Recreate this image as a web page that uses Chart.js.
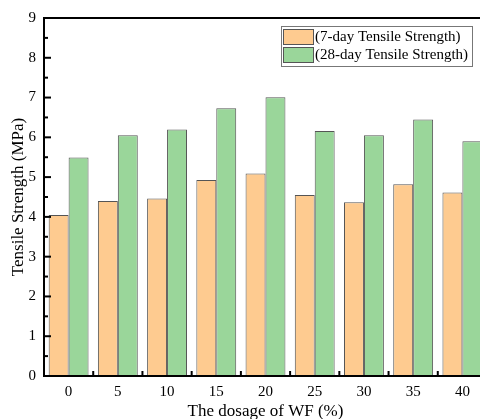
<!DOCTYPE html>
<html lang="en">
<head>
    <meta charset="UTF-8">
    <title>Tensile Strength vs WF dosage</title>
    <script src="https://cdn.jsdelivr.net/npm/chart.js"></script>
    <style>
        html, body {
            margin: 0;
            padding: 0;
            background: #fff;
            overflow: hidden;
        }
        #wrap {
            width: 500px;
            height: 419px;
        }
    </style>
</head>
<body>
    <div id="wrap"><canvas id="strengthChart" width="500" height="419"></canvas></div>

    <script>
        // Data
        const dosages = ['0', '5', '10', '15', '20', '25', '30', '35', '40'];
        const strength7d = [4.05, 4.40, 4.46, 4.93, 5.09, 4.55, 4.37, 4.82, 4.61];
        const strength28d = [5.49, 6.05, 6.20, 6.73, 7.01, 6.16, 6.05, 6.45, 5.90];
        const yTicks = [0, 1, 2, 3, 4, 5, 6, 7, 8, 9];

        const serif = 'Liberation Serif, Times New Roman, serif';

        // Frame, inward ticks and boxed legend (Origin style)
        const originStyle = {
            id: 'originStyle',
            afterDraw(chart) {
                const c = chart.ctx;
                const a = chart.chartArea;
                const xs = chart.scales.x;
                const ys = chart.scales.y;
                c.save();
                c.strokeStyle = '#000';
                c.lineWidth = 2;
                c.strokeRect(a.left, a.top, a.right - a.left, a.bottom - a.top);

                // y ticks: major every 1, minor halfway
                yTicks.forEach(function (v) {
                    const y = ys.getPixelForValue(v);
                    c.beginPath();
                    c.moveTo(a.left, y);
                    c.lineTo(a.left + 7, y);
                    c.stroke();
                    if (v < yTicks[yTicks.length - 1]) {
                        const ym = ys.getPixelForValue(v + 0.5);
                        c.beginPath();
                        c.moveTo(a.left, ym);
                        c.lineTo(a.left + 4, ym);
                        c.stroke();
                    }
                });

                // x ticks at category boundaries
                for (let i = 0; i < dosages.length - 1; i++) {
                    const x = (xs.getPixelForValue(i) + xs.getPixelForValue(i + 1)) / 2;
                    c.beginPath();
                    c.moveTo(x, a.bottom);
                    c.lineTo(x, a.bottom - 5);
                    c.stroke();
                }

                // legend box
                const boxW = 191, boxH = 40;
                const bx = a.right - 15 - boxW;
                const by = a.top + 8;
                c.fillStyle = '#fff';
                c.fillRect(bx, by, boxW, boxH);
                c.strokeStyle = '#777';
                c.lineWidth = 1;
                c.strokeRect(bx + 0.5, by + 0.5, boxW, boxH);
                c.font = '15px ' + serif;
                c.textBaseline = 'middle';
                chart.data.datasets.forEach(function (ds, i) {
                    const sy = by + 3 + i * 18;
                    c.fillStyle = ds.backgroundColor;
                    c.fillRect(bx + 2.5, sy + 0.5, 30, 15);
                    c.strokeStyle = '#555';
                    c.strokeRect(bx + 2.5, sy + 0.5, 30, 15);
                    c.fillStyle = '#000';
                    c.fillText(ds.label, bx + 34, sy + 8.5);
                });
                c.restore();
            }
        };

        const ctx = document.getElementById('strengthChart').getContext('2d');
        const strengthChart = new Chart(ctx, {
            type: 'bar',
            data: {
                labels: dosages,
                datasets: [{
                    label: '(7-day Tensile Strength)',
                    data: strength7d,
                    backgroundColor: '#FECB90',
                    borderColor: '#555',
                    borderWidth: 1
                }, {
                    label: '(28-day Tensile Strength)',
                    data: strength28d,
                    backgroundColor: '#9AD69A',
                    borderColor: '#555',
                    borderWidth: 1
                }]
            },
            options: {
                responsive: false,
                animation: false,
                devicePixelRatio: 1,
                categoryPercentage: 0.81,
                barPercentage: 1.0,
                layout: {
                    padding: { top: 18, right: 13, left: 0, bottom: 0 }
                },
                plugins: {
                    legend: { display: false },
                    tooltip: { enabled: false }
                },
                scales: {
                    x: {
                        grid: { display: false, drawTicks: false },
                        border: { display: false },
                        ticks: {
                            color: '#000',
                            padding: 7,
                            font: { family: serif, size: 15 }
                        },
                        title: {
                            display: true,
                            text: 'The dosage of WF (%)',
                            color: '#000',
                            padding: { top: 0, bottom: -3 },
                            font: { family: serif, size: 17 }
                        },
                        afterFit(scale) { scale.height = 43; }
                    },
                    y: {
                        min: 0,
                        max: 9,
                        grid: { display: false, drawTicks: false },
                        border: { display: false },
                        ticks: {
                            stepSize: 1,
                            color: '#000',
                            padding: 8,
                            font: { family: serif, size: 15 }
                        },
                        title: {
                            display: true,
                            text: 'Tensile Strength (MPa)',
                            color: '#000',
                            padding: { top: 8, bottom: 0 },
                            font: { family: serif, size: 17 }
                        },
                        afterFit(scale) { scale.width = 44; }
                    }
                }
            },
            plugins: [originStyle]
        });
    </script>
</body>
</html>
